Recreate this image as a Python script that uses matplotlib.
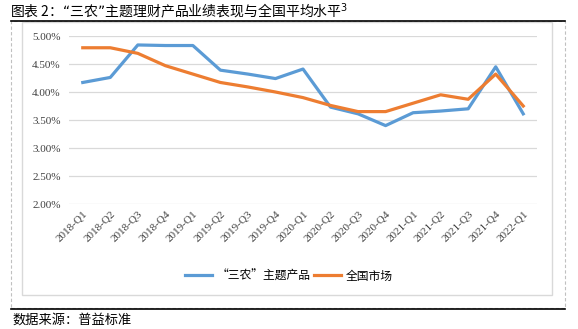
import matplotlib.pyplot as plt
from matplotlib.patches import Rectangle
from matplotlib.lines import Line2D
from matplotlib.ticker import FuncFormatter

plt.rcParams['font.family'] = ['Noto Sans CJK SC', 'DejaVu Sans']

quarters = ["2018-Q1", "2018-Q2", "2018-Q3", "2018-Q4",
            "2019-Q1", "2019-Q2", "2019-Q3", "2019-Q4",
            "2020-Q1", "2020-Q2", "2020-Q3", "2020-Q4",
            "2021-Q1", "2021-Q2", "2021-Q3", "2021-Q4",
            "2022-Q1"]
sannong = [4.17, 4.26, 4.84, 4.83, 4.83, 4.39, 4.32, 4.24, 4.41,
           3.73, 3.61, 3.40, 3.63, 3.66, 3.70, 4.45, 3.61]
national = [4.79, 4.79, 4.69, 4.47, 4.32, 4.17, 4.09, 4.00, 3.90,
            3.76, 3.65, 3.65, 3.80, 3.95, 3.87, 4.32, 3.75]
yticks = [2.0, 2.5, 3.0, 3.5, 4.0, 4.5, 5.0]

W, H = 578, 329
fig = plt.figure(figsize=(W / 100, H / 100), dpi=100)

def fx(px):
    return px / W

def fy(py):
    return 1 - py / H

# frames around the chart
fig.patches.append(Rectangle((fx(11), fy(308)), fx(565) - fx(11), fy(21) - fy(308),
                             transform=fig.transFigure, fill=False,
                             edgecolor='#c0c0c0', lw=0.8, ls=(0, (3, 2))))
fig.patches.append(Rectangle((fx(22), fy(295)), fx(552) - fx(22), fy(22) - fy(295),
                             transform=fig.transFigure, fill=False,
                             edgecolor='#d9d9d9', lw=1.0))
fig.lines.append(Line2D([fx(11), fx(565)], [fy(21), fy(21)], transform=fig.transFigure,
                        color='black', lw=1.2))
fig.lines.append(Line2D([fx(11), fx(565)], [fy(309), fy(309)], transform=fig.transFigure,
                        color='black', lw=1.2))

ax = fig.add_axes([fx(69), fy(204), fx(537) - fx(69), fy(36) - fy(204)])
x = list(range(len(quarters)))
ax.plot(x, sannong, color='#5B9BD5', lw=2.3, label='“三农”主题产品', clip_on=False)
ax.plot(x, national, color='#ED7D31', lw=2.3, label='全国市场', clip_on=False)

ax.set_xlim(-0.5, len(quarters) - 0.5)
ax.set_ylim(2.0, 5.0)
ax.set_yticks(yticks)
ax.yaxis.set_major_formatter(FuncFormatter(lambda v, p: f"{v:.2f}%"))
ax.grid(axis='y', color='#d9d9d9', lw=0.9)
ax.set_axisbelow(True)
for s in ax.spines.values():
    s.set_visible(False)
ax.tick_params(length=0)
ax.tick_params(axis='y', pad=6)
ax.set_xticks(x)
ax.set_xticklabels(quarters, rotation=45, ha='right', va='top', rotation_mode='anchor')
for lab in ax.get_xticklabels() + ax.get_yticklabels():
    lab.set_fontfamily('Liberation Serif')
    lab.set_fontsize(8)
    lab.set_color('#404040')

fig.legend(loc='center', bbox_to_anchor=(fx(289), fy(276)), ncol=2, frameon=False,
           fontsize=8.5, handlelength=2.3, columnspacing=0.3, handletextpad=0.4)

fig.text(fx(10), fy(11), '图表 2：“三农”主题理财产品业绩表现与全国平均水平$^3$',
         fontsize=10, va='center', ha='left')
fig.text(fx(12), fy(320), '数据来源：普益标准', fontsize=9.5, va='center', ha='left')

fig.savefig('out.png', dpi=100)
